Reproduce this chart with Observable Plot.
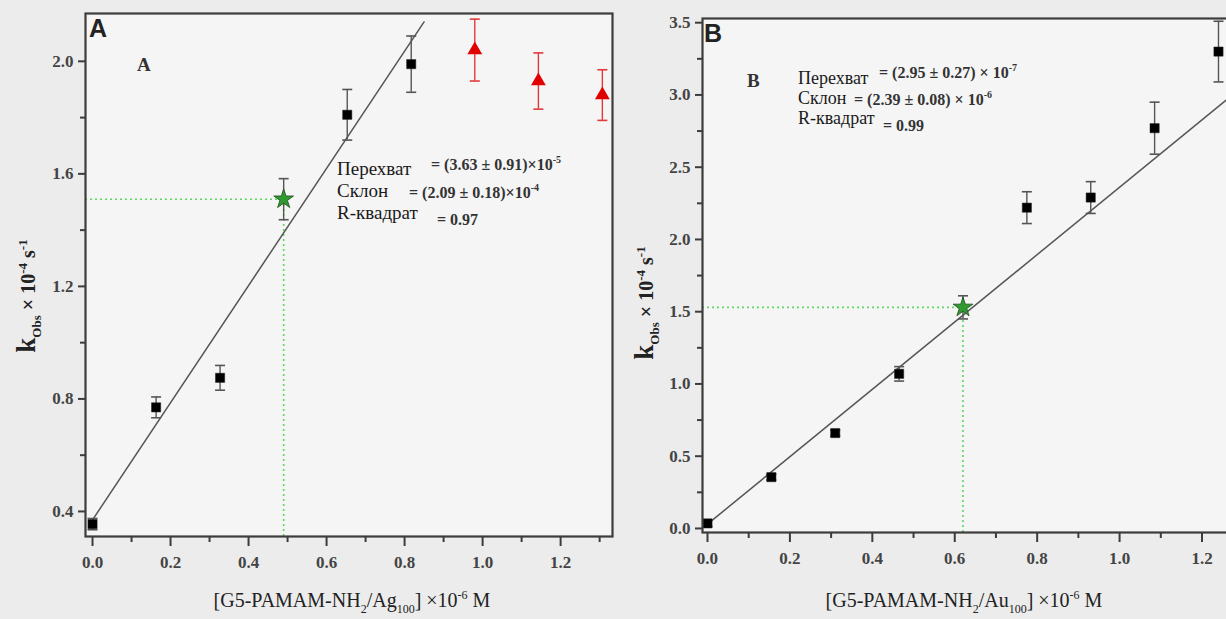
<!DOCTYPE html>
<html><head><meta charset="utf-8">
<script src="https://cdn.jsdelivr.net/npm/d3@7"></script>
<script src="https://cdn.jsdelivr.net/npm/@observablehq/plot@0.6"></script>
<style>
html,body{margin:0;padding:0;background:#ececec;overflow:hidden;}
#wrap{position:relative;width:1226px;height:619px;overflow:hidden;background:#ececec;}
#wrap svg{position:absolute;top:0;max-width:none;background:transparent;}
</style></head><body><div id="wrap"></div>
<script>
// ---------- Panel A data ----------
const xA_black = [0, 0.163, 0.327, 0.653, 0.817];
const yA_black = [0.355, 0.77, 0.875, 1.81, 1.99];
const eA_black = [0.02, 0.037, 0.044, 0.09, 0.10];
const xA_red = [0.98, 1.143, 1.307];
const yA_red = [2.04, 1.93, 1.88];
const eA_red = [0.11, 0.10, 0.09];
const xA_star = [0.49];
const yA_star = [1.51];
const eA_star = [0.073];
const fitA_x = [0, 0.85];
const fitA_y = [0.37, 2.14];

// ---------- Panel B data ----------
const xB_black = [0, 0.155, 0.31, 0.465, 0.775, 0.93, 1.085, 1.24];
const yB_black = [0.035, 0.355, 0.66, 1.07, 2.22, 2.29, 2.77, 3.30];
const eB_black = [0.02, 0.02, 0.02, 0.05, 0.11, 0.11, 0.18, 0.21];
const xB_star = [0.62];
const yB_star = [1.53];
const eB_star = [0.08];
const fitB_x = [0, 1.274];
const fitB_y = [0.03, 3.0];

// ---------- ticks ----------
const xMajor = [0, 0.2, 0.4, 0.6, 0.8, 1.0, 1.2];
const xMinor = [0.1, 0.3, 0.5, 0.7, 0.9, 1.1, 1.3];
const yMajorA = [0.4, 0.8, 1.2, 1.6, 2.0];
const yMinorA = [0.6, 1.0, 1.4, 1.8];
const yMajorB = [0, 0.5, 1.0, 1.5, 2.0, 2.5, 3.0, 3.5];
const yMinorB = [0.25, 0.75, 1.25, 1.75, 2.25, 2.75, 3.25];

// ---------- texts ----------
const fitLabels = ["Перехват", "Склон", "R-квадрат"];
const fitValuesA = [["= (3.63 ± 0.91)×10", "-5"], ["= (2.09 ± 0.18)×10", "-4"], ["= 0.97", ""]];
const fitValuesB = [["= (2.95 ± 0.27) × 10", "-7"], ["= (2.39 ± 0.08) × 10", "-6"], ["= 0.99", ""]];

const zip = (xs, ys, es) => xs.map((x, i) => ({x, y: ys[i], e: es ? es[i] : 0}));
const serif = "'Liberation Serif','Times New Roman',serif";
const sans = "'Liberation Sans',Arial,sans-serif";
const capSymbol = {draw(ctx, size) { const r = Math.sqrt(size / Math.PI); ctx.moveTo(-r, 0); ctx.lineTo(r, 0); }};
const green = "#5fd85f";

function errorMarks(data, color) {
  return [
    Plot.ruleX(data, {x: "x", y1: d => d.y - d.e, y2: d => d.y + d.e, stroke: color, strokeWidth: 1.4}),
    Plot.dot(data, {x: "x", y: d => d.y + d.e, symbol: capSymbol, r: 5, stroke: color, strokeWidth: 1.6, fill: "none"}),
    Plot.dot(data, {x: "x", y: d => d.y - d.e, symbol: capSymbol, r: 5, stroke: color, strokeWidth: 1.6, fill: "none"})
  ];
}

function panel(cfg) {
  return Plot.plot({
    width: 620, height: 619,
    marginLeft: cfg.ml, marginRight: cfg.mr, marginTop: cfg.mt, marginBottom: cfg.mb,
    x: {domain: cfg.xd, label: null},
    y: {domain: cfg.yd, label: null},
    style: {background: "transparent", fontFamily: serif, fontSize: "17px", overflow: "visible"},
    marks: [
      Plot.frame({fill: "#f5f5f5", stroke: null}),
      Plot.ruleY(cfg.star, {y: "y", x1: cfg.xd[0], x2: "x", stroke: green, strokeWidth: 1.6, strokeDasharray: "2,3"}),
      Plot.ruleX(cfg.star, {x: "x", y1: cfg.yd[0], y2: "y", stroke: green, strokeWidth: 1.6, strokeDasharray: "2,3"}),
      Plot.line(cfg.fit, {x: "x", y: "y", stroke: "#555", strokeWidth: 1.5, clip: true}),
      ...errorMarks(cfg.black, "#555"),
      ...(cfg.red ? errorMarks(cfg.red, "#e23a3a") : []),
      ...errorMarks(cfg.star, "#555"),
      Plot.dot(cfg.black, {x: "x", y: "y", symbol: "square", r: 5.2, fill: "#000", stroke: "#222", strokeWidth: 0.5}),
      ...(cfg.red ? [Plot.dot(cfg.red, {x: "x", y: "y", symbol: "triangle", r: 5.5, fill: "#e00000", stroke: "none"})] : []),
      Plot.dot(cfg.star, {x: "x", y: "y", symbol: "star", r: 6.2, fill: "#2f9a2f", stroke: "#1d4d1d", strokeWidth: 0.8}),
      Plot.frame({stroke: "#3c3c3c", strokeWidth: 2.2}),
      Plot.axisX(xMajor.filter(v => v >= cfg.xd[0] && v <= cfg.xd[1]), {tickSize: 10, tickPadding: 9, tickFormat: d3.format(".1f"), stroke: "#3c3c3c", strokeWidth: 2, fill: "#444", fontSize: 17, fontWeight: "bold", fontFamily: serif, label: null}),
      Plot.axisX(xMinor.filter(v => v >= cfg.xd[0] && v <= cfg.xd[1]), {tickSize: 6, tickFormat: () => "", stroke: "#3c3c3c", strokeWidth: 2, fill: "none", label: null}),
      Plot.axisY(cfg.yMajor, {tickSize: 7, tickPadding: 5, tickFormat: d3.format(".1f"), stroke: "#3c3c3c", strokeWidth: 2, fill: "#444", fontSize: 17, fontWeight: "bold", fontFamily: serif, label: null}),
      Plot.axisY(cfg.yMinor, {tickSize: 5, tickFormat: () => "", stroke: "#3c3c3c", strokeWidth: 2, fill: "none", label: null})
    ]
  });
}

function rich(svg, x, y, parts, o = {}) {
  const size = o.size || 16;
  const t = d3.select(svg).append("text")
    .attr("transform", `translate(${x},${y}) rotate(${o.rotate || 0})`)
    .attr("text-anchor", o.anchor || "start")
    .attr("font-family", o.family || serif)
    .attr("font-weight", o.weight || "normal")
    .attr("fill", o.fill || "#222")
    .attr("font-size", size);
  let shift = 0;
  for (const [s, kind, sz] of parts) {
    if (!s) continue;
    const fs = sz || (kind === "n" ? size : Math.round(size * 0.62));
    const target = kind === "sup" ? -size * 0.42 : kind === "sub" ? size * 0.28 : 0;
    t.append("tspan").attr("dy", target - shift).attr("font-size", fs).text(s);
    shift = target;
  }
  return t;
}

const wrap = document.getElementById("wrap");

// ----- Panel A -----
const svgA = panel({
  ml: 85, mr: 8, mt: 13, mb: 83,
  xd: [-0.018, 1.333], yd: [0.311, 2.17],
  yMajor: yMajorA, yMinor: yMinorA,
  black: zip(xA_black, yA_black, eA_black),
  red: zip(xA_red, yA_red, eA_red),
  star: zip(xA_star, yA_star, eA_star),
  fit: zip(fitA_x, fitA_y)
});
svgA.style.left = "0px";
wrap.appendChild(svgA);

// ----- Panel B -----
const svgB = panel({
  ml: 82, mr: 8, mt: 18, mb: 87,
  xd: [-0.0121, 1.274], yd: [-0.028, 3.529],
  yMajor: yMajorB, yMinor: yMinorB,
  black: zip(xB_black, yB_black, eB_black),
  red: null,
  star: zip(xB_star, yB_star, eB_star),
  fit: zip(fitB_x, fitB_y)
});
svgB.style.left = "620px";
wrap.appendChild(svgB);

// ----- Texts A -----
rich(svgA, 89, 37, [["A", "n"]], {size: 25, family: sans, weight: "bold", fill: "#222"});
rich(svgA, 137, 71, [["A", "n"]], {size: 19, weight: "bold", fill: "#333"});
const rowsA = [[175, 431, 170], [197, 409, 198], [219, 437, 225]];
rowsA.forEach(([yb, vx, vy], i) => {
  rich(svgA, 337, yb, [[fitLabels[i], "n"]], {size: 19, fill: "#1a1a1a"});
  rich(svgA, vx, vy, [[fitValuesA[i][0], "n"], [fitValuesA[i][1], "sup", 10]], {size: 16, fill: "#333", weight: "bold"});
});
rich(svgA, 35, 296, [["k", "n", 27], ["Obs", "sub", 13], [" × 10", "n"], ["-4", "sup", 13], [" s", "n"], ["-1", "sup", 13]], {size: 20, weight: "bold", rotate: -90, anchor: "middle", fill: "#222"});
rich(svgA, 352, 607, [["[G5-PAMAM-NH", "n"], ["2", "sub", 12], ["/Ag", "n"], ["100", "sub", 12], ["] ×10", "n"], ["-6", "sup", 12], [" M", "n"]], {size: 20, anchor: "middle", fill: "#222"});

// ----- Texts B -----
rich(svgB, 84, 42, [["B", "n"]], {size: 25, family: sans, weight: "bold", fill: "#222"});
rich(svgB, 127, 87, [["B", "n"]], {size: 19, weight: "bold", fill: "#333"});
const rowsB = [[84, 259, 78], [104, 234, 105], [124, 263, 131]];
rowsB.forEach(([yb, vx, vy], i) => {
  rich(svgB, 178, yb, [[fitLabels[i], "n"]], {size: 18, fill: "#1a1a1a"});
  rich(svgB, vx, vy, [[fitValuesB[i][0], "n"], [fitValuesB[i][1], "sup", 10]], {size: 16, fill: "#333", weight: "bold"});
});
rich(svgB, 33, 303, [["k", "n", 27], ["Obs", "sub", 13], [" × 10", "n"], ["-4", "sup", 13], [" s", "n"], ["-1", "sup", 13]], {size: 20, weight: "bold", rotate: -90, anchor: "middle", fill: "#222"});
rich(svgB, 344, 607, [["[G5-PAMAM-NH", "n"], ["2", "sub", 12], ["/Au", "n"], ["100", "sub", 12], ["] ×10", "n"], ["-6", "sup", 12], [" M", "n"]], {size: 20, anchor: "middle", fill: "#222"});
</script></body></html>
